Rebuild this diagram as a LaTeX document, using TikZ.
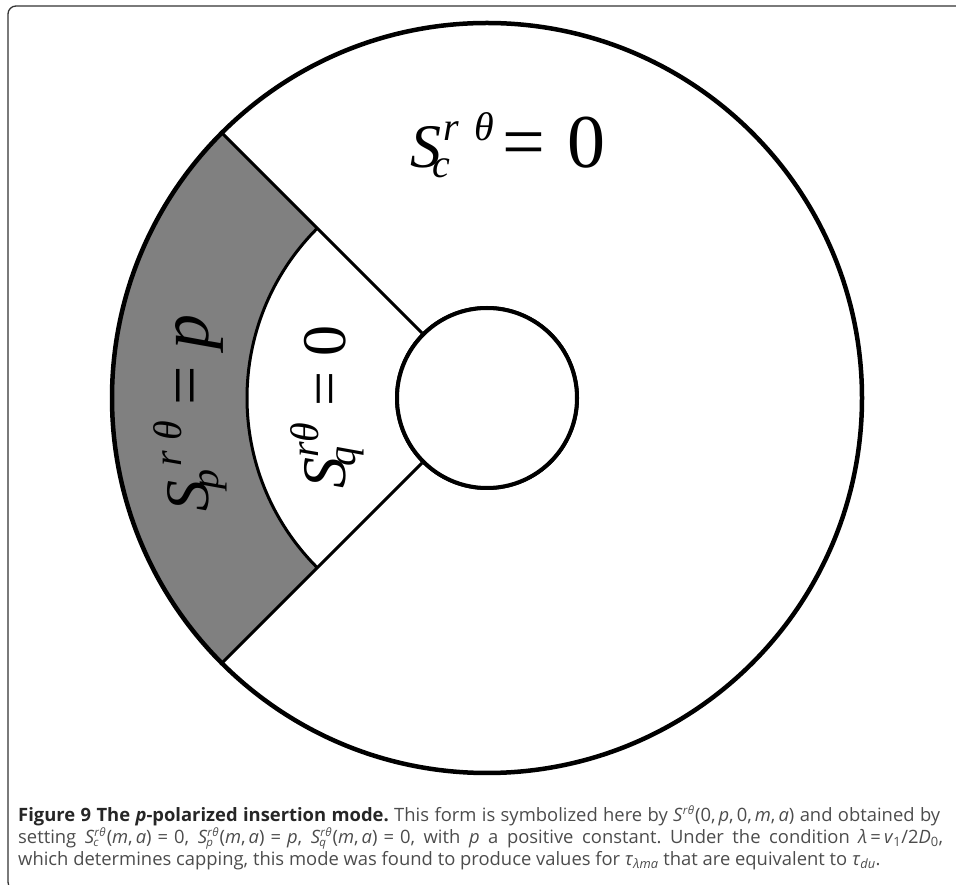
\documentclass[tikz,border=0pt]{standalone}
\usepackage{fontspec}
\setmainfont{Open Sans}
\newfontfamily\labelfont{Liberation Serif}
\usepackage{tikz}
\usetikzlibrary{calc}
\definecolor{sectorgray}{rgb}{0.5, 0.5, 0.5}
\definecolor{captiongray}{rgb}{0.3, 0.3, 0.3}
\definecolor{framegray}{rgb}{0.2, 0.2, 0.2}

% S with stacked sub- and superscript, for the big labels (#1 gap before r, #2 gap r-theta, #3 subscript)
\newcommand{\bigS}[3]{\textit{S}\rlap{\kern-9pt\raisebox{-10pt}{\fontsize{40}{40}\selectfont\itshape #3}}\raisebox{27pt}{\fontsize{40}{40}\selectfont\itshape \kern#1 r\kern#2 θ}}
% same for the caption
\newcommand{\capS}[1]{\textit{S}\rlap{\kern-1pt\raisebox{-3.5pt}{\fontsize{11.5}{11.5}\selectfont\itshape #1}}\raisebox{7pt}{\fontsize{11.5}{11.5}\selectfont\itshape r\kern.5pt θ}\kern1pt}
\newcommand{\eqs}{\hspace{6pt}=\hspace{6pt}}

\begin{document}
\begin{tikzpicture}[x=1pt, y=1pt,
		ring/.style={draw=black, line width=4.5pt},
		spoke/.style={draw=black, line width=3pt},
		hub/.style={circle, draw=black, fill=white, line width=4pt, minimum size=180pt, inner sep=0pt},
		sectorlabel/.style={font=\labelfont\fontsize{62}{70}\selectfont, inner sep=0pt},
		captionline/.style={anchor=base west, inner sep=0pt, font=\fontsize{18.4}{22}\selectfont\frenchspacing, text=captiongray}
	]
	% --- Page and frame ---
	\useasboundingbox (0,0) rectangle (956,884);
	\clip (0,0) rectangle (956,884);
	\draw[framegray, line width=1.3pt, rounded corners=8pt] (8,-6) rectangle (970,878);

	% --- Disc ---
	\coordinate (ctr) at (487,486);
	\coordinate (rimNW) at ($(ctr)+(135:375)$);
	\coordinate (rimSW) at ($(ctr)+(225:375)$);
	\coordinate (midNW) at ($(ctr)+(135:240)$);
	\coordinate (midSW) at ($(ctr)+(225:240)$);

	\fill[sectorgray] (midNW) -- (rimNW) arc[start angle=135, end angle=225, radius=375]
		-- (midSW) arc[start angle=225, end angle=135, radius=240] -- cycle;

	\node[hub] (hub) at (ctr) {};
	\draw[spoke] (hub.135) -- (rimNW);
	\draw[spoke] (hub.225) -- (rimSW);
	\draw[spoke] (midNW) arc[start angle=135, end angle=225, radius=240];
	\draw[ring] (ctr) circle[radius=375];
	\node[hub] (hub) at (ctr) {};

	% --- Region labels ---
	\node[sectorlabel, anchor=base west] (lab_c) at (410,716) {\bigS{2pt}{16pt}{c}\kern8pt{\fontsize{76}{80}\selectfont=\hspace{22pt}0}};
	\node[sectorlabel, anchor=base, rotate=90] (lab_p) at (208,471) {\bigS{14pt}{10pt}{p}\hspace{16pt}{\fontsize{70}{76}\selectfont=\hspace{16pt}\textit{p}}};
	\node[sectorlabel, anchor=base, rotate=90] (lab_q) at (345,477) {\bigS{0pt}{0pt}{q} = 0};

	% --- Caption ---
	\node[captionline] (cap1) at (18,63) {\makebox[922pt][s]{{\color{black!85}\bfseries Figure 9 The \textit{p}-polarized insertion mode.} This form is symbolized here by \capS{}(0,\,\textit{p},\,0,\,\textit{m},\,\textit{a}) and obtained by}};
	\node[captionline] (cap2) at (18,41) {\makebox[925pt][s]{setting \capS{c}(\textit{m},\,\textit{a})\eqs0, \capS{p}(\textit{m},\,\textit{a})\eqs\textit{p}, \capS{q}(\textit{m},\,\textit{a})\eqs0, with \textit{p} a positive constant. Under the condition \textit{λ}\,=\,\textit{v}\textsubscript{1}/2\textit{D}\textsubscript{0},}};
	\node[captionline] (cap3) at (18,19) {which determines capping, this mode was found to produce values for \textit{τ}\textsubscript{\textit{λma}} that are equivalent to \textit{τ}\textsubscript{\textit{du}}.};
\end{tikzpicture}
\end{document}
